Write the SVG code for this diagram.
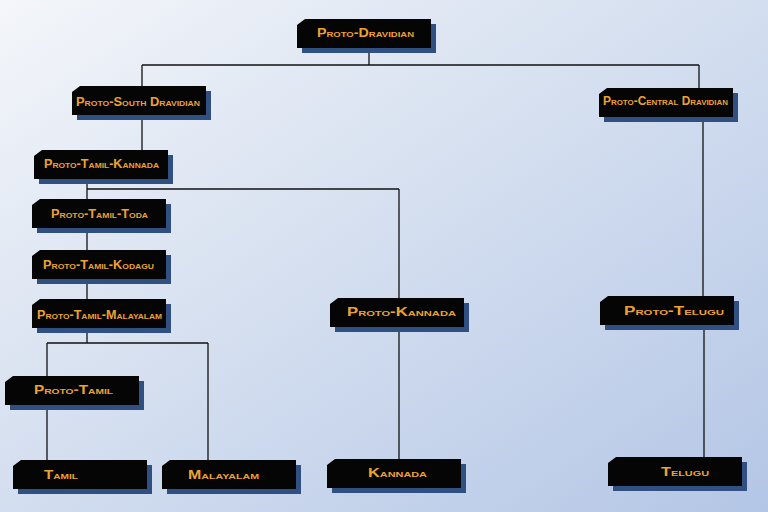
<svg xmlns="http://www.w3.org/2000/svg" width="768" height="512" viewBox="0 0 768 512">
<defs>
<linearGradient id="bg" x1="0" y1="0" x2="1" y2="1">
<stop offset="0" stop-color="#f4f6fa"/>
<stop offset="0.45" stop-color="#d6e0f0"/>
<stop offset="1" stop-color="#b4c6e6"/>
</linearGradient>
<path id="box" d="M8,0 H134 V29 H0 V6 Z"/>
</defs>
<style>
.sh{fill:#2f5080}
.bx{fill:#050505}
.lb{font-family:"Liberation Sans",Arial,sans-serif;font-weight:bold;font-size:12px;font-variant:small-caps;fill:#eea22e}
.cn line{stroke:#111;stroke-width:1.3}
</style>
<rect width="768" height="512" fill="url(#bg)"/>
<g id="connectors" class="cn">
<line x1="369" y1="48" x2="369" y2="65"/>
<line x1="142" y1="65" x2="699" y2="65"/>
<line x1="142" y1="65" x2="142" y2="150"/>
<line x1="699" y1="65" x2="699" y2="88"/>
<line x1="703" y1="117" x2="703" y2="296"/>
<line x1="704" y1="325" x2="704" y2="457"/>
<line x1="87" y1="179" x2="87" y2="343"/>
<line x1="87" y1="189" x2="399" y2="189"/>
<line x1="399" y1="189" x2="399" y2="459"/>
<line x1="47" y1="343" x2="208" y2="343"/>
<line x1="47" y1="343" x2="47" y2="460"/>
<line x1="208" y1="343" x2="208" y2="460"/>
</g>
<g id="proto-dravidian" transform="translate(297,19)"><use href="#box" class="sh" x="5" y="5"/><use href="#box" class="bx"/><text class="lb" x="20" y="18" textLength="97" lengthAdjust="spacingAndGlyphs">Proto-Dravidian</text></g>
<g id="proto-south-dravidian" transform="translate(72,86)"><use href="#box" class="sh" x="5" y="5"/><use href="#box" class="bx"/><text class="lb" x="4" y="20" textLength="124" lengthAdjust="spacingAndGlyphs">Proto-South Dravidian</text></g>
<g id="proto-central-dravidian" transform="translate(599,88)"><use href="#box" class="sh" x="5" y="5"/><use href="#box" class="bx"/><text class="lb" x="4" y="17" textLength="125" lengthAdjust="spacingAndGlyphs">Proto-Central Dravidian</text></g>
<g id="proto-tamil-kannada" transform="translate(34,150)"><use href="#box" class="sh" x="5" y="5"/><use href="#box" class="bx"/><text class="lb" x="10" y="18" textLength="115" lengthAdjust="spacingAndGlyphs">Proto-Tamil-Kannada</text></g>
<g id="proto-tamil-toda" transform="translate(32,199)"><use href="#box" class="sh" x="5" y="5"/><use href="#box" class="bx"/><text class="lb" x="19" y="19" textLength="97" lengthAdjust="spacingAndGlyphs">Proto-Tamil-Toda</text></g>
<g id="proto-tamil-kodagu" transform="translate(32,250)"><use href="#box" class="sh" x="5" y="5"/><use href="#box" class="bx"/><text class="lb" x="11" y="19" textLength="111" lengthAdjust="spacingAndGlyphs">Proto-Tamil-Kodagu</text></g>
<g id="proto-tamil-malayalam" transform="translate(32,299)"><use href="#box" class="sh" x="5" y="5"/><use href="#box" class="bx"/><text class="lb" x="5" y="20" textLength="125" lengthAdjust="spacingAndGlyphs">Proto-Tamil-Malayalam</text></g>
<g id="proto-tamil" transform="translate(5,376)"><use href="#box" class="sh" x="5" y="5"/><use href="#box" class="bx"/><text class="lb" x="29" y="18" textLength="79" lengthAdjust="spacingAndGlyphs">Proto-Tamil</text></g>
<g id="tamil" transform="translate(13,460)"><use href="#box" class="sh" x="5" y="5"/><use href="#box" class="bx"/><text class="lb" x="31" y="19" textLength="34" lengthAdjust="spacingAndGlyphs">Tamil</text></g>
<g id="malayalam" transform="translate(162,460)"><use href="#box" class="sh" x="5" y="5"/><use href="#box" class="bx"/><text class="lb" x="26" y="19" textLength="71" lengthAdjust="spacingAndGlyphs">Malayalam</text></g>
<g id="proto-kannada" transform="translate(330,298)"><use href="#box" class="sh" x="5" y="5"/><use href="#box" class="bx"/><text class="lb" x="17" y="18" textLength="109" lengthAdjust="spacingAndGlyphs">Proto-Kannada</text></g>
<g id="kannada" transform="translate(327,459)"><use href="#box" class="sh" x="5" y="5"/><use href="#box" class="bx"/><text class="lb" x="41" y="18" textLength="59" lengthAdjust="spacingAndGlyphs">Kannada</text></g>
<g id="proto-telugu" transform="translate(600,296)"><use href="#box" class="sh" x="5" y="5"/><use href="#box" class="bx"/><text class="lb" x="24" y="19" textLength="100" lengthAdjust="spacingAndGlyphs">Proto-Telugu</text></g>
<g id="telugu" transform="translate(608,457)"><use href="#box" class="sh" x="5" y="5"/><use href="#box" class="bx"/><text class="lb" x="53" y="19" textLength="48" lengthAdjust="spacingAndGlyphs">Telugu</text></g>
</svg>
